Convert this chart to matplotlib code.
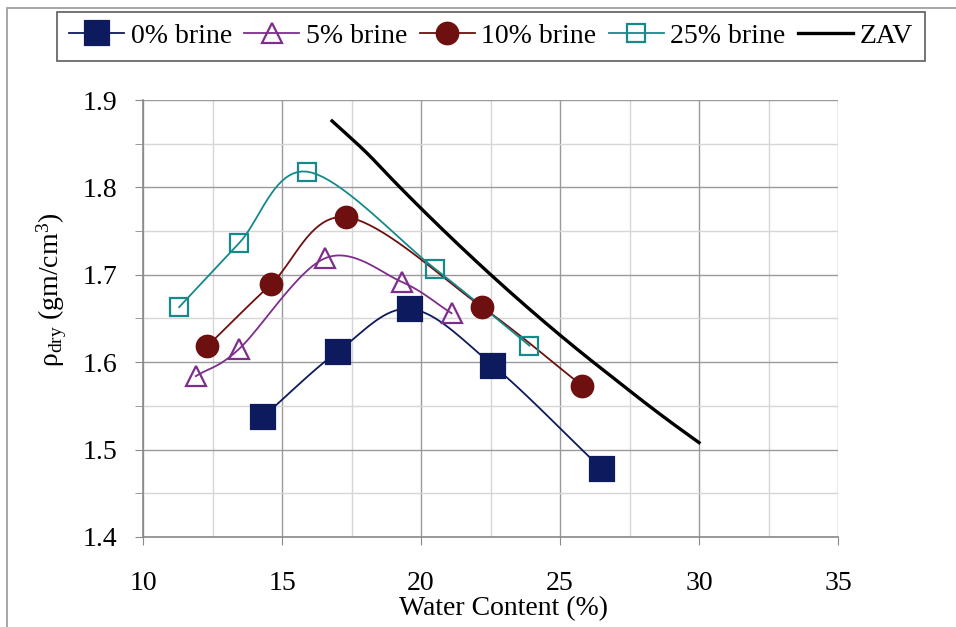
import numpy as np
import matplotlib
matplotlib.use("Agg")
import matplotlib.pyplot as plt
from matplotlib.patches import Rectangle
from matplotlib.ticker import MultipleLocator

plt.rcParams['font.family'] = ['Liberation Serif', 'DejaVu Serif']
plt.rcParams['mathtext.fontset'] = 'custom'
plt.rcParams['mathtext.rm'] = 'Liberation Serif'
plt.rcParams['mathtext.it'] = 'Liberation Serif:italic'

# ---- data ----
w_0 = [14.3, 17.0, 19.6, 22.6, 26.5]
rho_0 = [1.537, 1.612, 1.661, 1.596, 1.478]

w_5 = [11.9, 13.45, 16.55, 19.3, 21.1]
rho_5 = [1.584, 1.615, 1.719, 1.692, 1.656]

w_10 = [12.3, 14.6, 17.3, 22.2, 25.8]
rho_10 = [1.618, 1.689, 1.766, 1.663, 1.573]

w_25 = [11.3, 13.45, 15.9, 20.5, 23.9]
rho_25 = [1.663, 1.736, 1.818, 1.707, 1.619]

w_zav = [16.8, 18, 19, 20, 21, 22, 23, 24, 25, 26, 27, 28, 29, 30]
rho_zav = [1.876, 1.841, 1.808, 1.776, 1.745, 1.715, 1.686, 1.658, 1.631,
           1.605, 1.580, 1.555, 1.531, 1.508]

labels = ['0% brine', '5% brine', '10% brine', '25% brine', 'ZAV']
x_ticks = [10, 15, 20, 25, 30, 35]
y_ticks = [1.4, 1.5, 1.6, 1.7, 1.8, 1.9]

FS = 20


def smooth(x, y, n=20):
    """Catmull-Rom style smoothing (Excel 'smoothed line')."""
    x = np.asarray(x, float)
    y = np.asarray(y, float)
    if len(x) < 3:
        return x, y
    P = np.column_stack([x, y])
    P = np.vstack([P[0] - (P[1] - P[0]), P, P[-1] + (P[-1] - P[-2])])
    out = []
    for i in range(1, len(P) - 2):
        p0, p1, p2, p3 = P[i - 1], P[i], P[i + 1], P[i + 2]
        c1 = p1 + (p2 - p0) / 6.0
        c2 = p2 - (p3 - p1) / 6.0
        t = np.linspace(0, 1, n, endpoint=(i == len(P) - 3))[:, None]
        seg = ((1 - t) ** 3) * p1 + 3 * ((1 - t) ** 2) * t * c1 + 3 * (1 - t) * t ** 2 * c2 + t ** 3 * p2
        out.append(seg)
    out = np.vstack(out)
    return out[:, 0], out[:, 1]


fig = plt.figure(figsize=(9.56, 6.27), dpi=100)
fig.patch.set_facecolor('white')
# outer chart border (cropped at right / bottom)
fig.add_artist(Rectangle((7 / 956, -0.1), 1.2, 1 - 8 / 627 + 0.1, transform=fig.transFigure,
                         fill=False, edgecolor='#a0a0a0', linewidth=1.3))

ax = fig.add_axes([143 / 956, 1 - 537 / 627, (838 - 143) / 956, (537 - 100) / 627])
ax.set_xlim(10, 35)
ax.set_ylim(1.4, 1.9)
ax.set_xticks(x_ticks)
ax.set_yticks(y_ticks)
ax.set_yticklabels([f'{v:.1f}' for v in y_ticks])
ax.xaxis.set_minor_locator(MultipleLocator(2.5))
ax.yaxis.set_minor_locator(MultipleLocator(0.05))
ax.grid(which='major', color='#9a9a9a', linewidth=1.0)
ax.grid(which='minor', color='#d6d6d6', linewidth=1.0)
ax.set_axisbelow(True)
for s in ['top', 'right']:
    ax.spines[s].set_visible(False)
for s in ['left', 'bottom']:
    ax.spines[s].set_color('#8a8a8a')
    ax.spines[s].set_linewidth(1.2)
ax.tick_params(axis='both', which='both', direction='out', color='#8a8a8a', labelsize=FS)
ax.tick_params(axis='y', which='major', length=6, pad=12.7)
ax.tick_params(axis='y', which='minor', length=6)
ax.tick_params(axis='x', which='major', length=6, pad=18.5)
ax.tick_params(axis='x', which='minor', length=0)

series = [
    (w_0, rho_0, '#0e1a5e', 's', 17, True),
    (w_5, rho_5, '#7d2e8c', '^', 14, False),
    (w_10, rho_10, '#6e0f10', 'o', 15.5, True),
    (w_25, rho_25, '#16898a', 's', 13, False),
]
handles = []
for (x, y, c, m, ms, filled), lab in zip(series, labels[:4]):
    xs, ys = smooth(x, y)
    ax.plot(xs, ys, color=c, linewidth=1.3, zorder=3)
    ax.plot(x, y, linestyle='none', marker=m, markersize=ms,
            markerfacecolor=c if filled else 'none', markeredgecolor=c,
            markeredgewidth=1.6, zorder=4)
    h, = ax.plot([], [], color=c, linewidth=1.3, marker=m, markersize=ms,
                 markerfacecolor=c if filled else 'none', markeredgecolor=c,
                 markeredgewidth=1.6, label=lab)
    handles.append(h)

xs, ys = smooth(w_zav, rho_zav)
hz, = ax.plot(xs, ys, color='black', linewidth=2.4, zorder=3, label=labels[4])
handles.append(hz)

leg = fig.legend(handles=handles, labels=labels, loc='upper center', ncol=5,
                 bbox_to_anchor=(491 / 956, 1 - 12 / 627), fontsize=FS, frameon=True,
                 fancybox=False, edgecolor='#333333', handlelength=1.98, handletextpad=0.25,
                 columnspacing=0.43, borderpad=0.42, borderaxespad=0)
leg.get_frame().set_linewidth(1.2)

fig.text(503 / 956, 1 - 615 / 627, 'Water Content (%)', ha='center', va='baseline', fontsize=FS)
fig.text(52 / 956, 1 - 290 / 627, r'ρ$_{\mathrm{dry}}$ (gm/cm$^{3}$)', rotation=90,
         ha='center', va='center', fontsize=FS)

fig.savefig('out.png', dpi=100)
